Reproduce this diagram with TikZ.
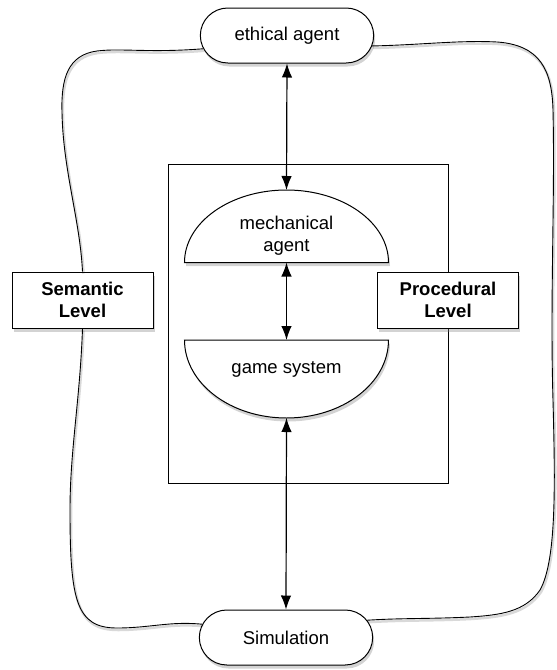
\documentclass[tikz,border=0pt]{standalone}
\usepackage{fontspec}
\setmainfont{Liberation Sans}
\usetikzlibrary{shapes.misc,shadows,arrows.meta}
\tikzset{
  shad/.style={drop shadow={opacity=0.35,shadow xshift=1.5pt,shadow yshift=-3.5pt}},
  pill/.style={rounded rectangle,draw,line width=1pt,fill=white,shad,minimum width=180pt,minimum height=55pt,font=\fontsize{18.5}{22}\selectfont},
  levelbox/.style={rectangle,draw,line width=1pt,fill=white,shad,minimum width=141pt,minimum height=56pt,font=\bfseries\fontsize{18.5}{22}\selectfont,align=center},
  dome/.style={draw,line width=1pt,fill=white,shad},
  lbl/.style={font=\fontsize{18.5}{22}\selectfont,align=center},
  curve/.style={draw,line width=0.9pt,preaction={draw,black,opacity=0.15,line width=2.5pt,transform canvas={xshift=1pt,yshift=-2pt}}},
  link/.style={line width=1.2pt,{Latex[length=14pt,width=10.5pt]}-{Latex[length=14pt,width=10.5pt]}}
}
\begin{document}
\begin{tikzpicture}[x=1pt,y=-1pt]
\useasboundingbox (0,0) rectangle (557,670);
% big box
\draw[line width=1pt] (168.5,164) rectangle (448.5,483.5);
% nodes
\node[pill] (ea) at (287,35.5) {ethical agent};
\node[pill] (sim) at (286,637.5) {Simulation};
\node[levelbox] (sem) at (82.5,300) {Semantic\\Level};
\node[levelbox] (proc) at (448,300) {Procedural\\Level};
% domes
\draw[dome] (184.5,262.5) arc[start angle=180,end angle=360,x radius=102,y radius=72.5] -- cycle;
\draw[dome] (184.5,340) arc[start angle=180,end angle=0,x radius=102,y radius=78] -- cycle;
\node[lbl] (mech) at (286.5,236) {mechanical\\agent};
\node[lbl] (game) at (286.5,369) {game system};
\coordinate (mtop) at (286.5,190);
\coordinate (mbot) at (286.5,262.5);
\coordinate (gtop) at (286.5,340);
\coordinate (gbot) at (286.5,418);
% arrows
\draw[link] (ea.south) -- (mtop);
\draw[link] (mbot) -- (gtop);
\draw[link] (gbot) -- (sim.north);
% curves
\path[curve] (ea.189) .. controls (150,53) and (120,48) .. (97,51)
  .. controls (68,55) and (61,78) .. (62,112)
  .. controls (63,170) and (80,220) .. (sem.north);
\path[curve] (sem.south) .. controls (80,400) and (70,450) .. (70,510)
  .. controls (70,600) and (76,628) .. (117,628)
  .. controls (150,628) and (170,621) .. (sim.171);
\path[curve] (ea.-7) .. controls (420,45) and (460,40) .. (497,42)
  .. controls (540,45) and (552,70) .. (553,110)
  .. controls (555,200) and (550,300) .. (553,400)
  .. controls (555,480) and (557,560) .. (540,590)
  .. controls (525,612) and (500,615) .. (470,617)
  .. controls (430,619) and (400,618) .. (sim.12);
\end{tikzpicture}
\end{document}
